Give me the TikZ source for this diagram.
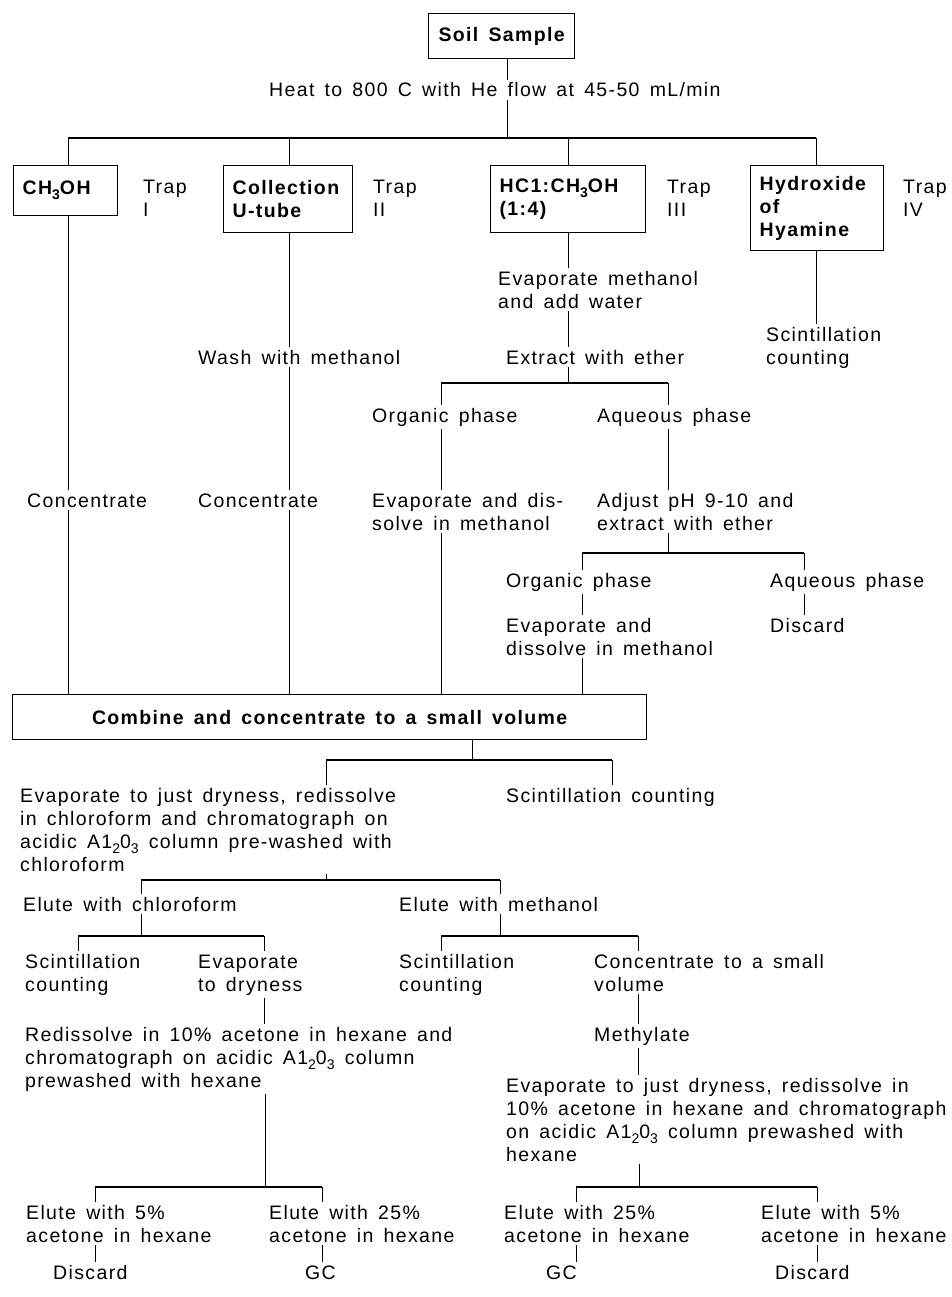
\documentclass[tikz,border=0pt]{standalone}
\usepackage{fontspec}
\setmainfont{Liberation Sans}[LetterSpace=7,WordSpace=1.5]

\newcommand{\low}[1]{\raisebox{-0.5ex}{\fontsize{14}{14}\selectfont #1}}

\begin{document}
\begin{tikzpicture}[x=1pt,y=-1pt,
  every node/.style={font=\fontsize{19.5}{23}\selectfont},
  txt/.style={inner sep=3pt,align=left,anchor=base west},
  box/.style={draw,line width=1.3pt,inner xsep=9pt,inner ysep=8pt,align=left,
    anchor=north west,font=\fontsize{19.5}{23}\selectfont\bfseries},
  link/.style={line width=0.9pt},
  bar/.style={line width=1.5pt}]

\useasboundingbox (0,0) rectangle (951,1297);

% (text nodes sit on the baseline of their last line)
\node[box,minimum width=146,minimum height=45,align=center] (soil) at (428,13) {Soil Sample};
\node[txt] (heat) at (266,97) {Heat to 800 C with He flow at 45-50 mL/min};

% traps
\node[box,text width=86,minimum height=50]  (trap1) at (13,165)  {CH\low{3}OH};
\node[box,text width=111,minimum height=67] (trap2) at (223,165) {Collection\\U-tube};
\node[box,text width=137,minimum height=67] (trap3) at (490,165) {HC1:CH\low{3}OH\\(1:4)};
\node[box,text width=115,minimum height=85] (trap4) at (750,165) {Hydroxide\\of\\Hyamine};
\node[txt] (lab1) at (140,217) {Trap\\I};
\node[txt] (lab2) at (370,217) {Trap\\II};
\node[txt] (lab3) at (664,217) {Trap\\III};
\node[txt] (lab4) at (900,217) {Trap\\IV};

\node[txt] (evmeth)  at (495,308) {Evaporate methanol\\and add water};
\node[txt] (scintA)  at (763,364) {Scintillation\\counting};
\node[txt] (wash)    at (195,364) {Wash with methanol};
\node[txt] (extract) at (503,364) {Extract with ether};
\node[txt] (orgA)    at (369,422) {Organic phase};
\node[txt] (aqA)     at (594,422) {Aqueous phase};
\node[txt] (concA)   at (24,507)  {Concentrate};
\node[txt] (concB)   at (195,507) {Concentrate};
\node[txt] (evdisA)  at (369,530) {Evaporate and dis-\\solve in methanol};
\node[txt] (adjust)  at (594,530) {Adjust pH 9-10 and\\extract with ether};
\node[txt] (orgB)    at (503,587) {Organic phase};
\node[txt] (aqB)     at (767,587) {Aqueous phase};
\node[txt] (evdisB)  at (503,655) {Evaporate and\\dissolve in methanol};
\node[txt] (discA)   at (767,632) {Discard};

\node[box,minimum width=634,minimum height=45,align=center] (combine) at (12,694)
  {Combine and concentrate to a small volume};

\node[txt] (evchl)   at (17,871)  {Evaporate to just dryness, redissolve\\in chloroform and chromatograph on\\acidic A1\low{2}0\low{3} column pre-washed with\\chloroform};
\node[txt] (scintB)  at (503,802) {Scintillation counting};
\node[txt] (eluchl)  at (20,911)  {Elute with chloroform};
\node[txt] (elumeth) at (396,911) {Elute with methanol};
\node[txt] (scintC)  at (22,991)  {Scintillation\\counting};
\node[txt] (evdry)   at (195,991) {Evaporate\\to dryness};
\node[txt] (scintD)  at (396,991) {Scintillation\\counting};
\node[txt] (concsm)  at (591,991) {Concentrate to a small\\volume};
\node[txt] (redis)   at (22,1087) {Redissolve in 10\% acetone in hexane and\\chromatograph on acidic A1\low{2}0\low{3} column\\prewashed with hexane};
\node[txt] (methyl)  at (591,1041) {Methylate};
\node[txt] (evright) at (503,1161) {Evaporate to just dryness, redissolve in\\10\% acetone in hexane and chromatograph\\on acidic A1\low{2}0\low{3} column prewashed with\\hexane};
\node[txt] (eluA)    at (23,1242)  {Elute with 5\%\\acetone in hexane};
\node[txt] (eluB)    at (266,1242) {Elute with 25\%\\acetone in hexane};
\node[txt] (eluC)    at (501,1242) {Elute with 25\%\\acetone in hexane};
\node[txt] (eluD)    at (758,1242) {Elute with 5\%\\acetone in hexane};
\node[txt] (discB)   at (50,1279)  {Discard};
\node[txt] (gcA)     at (302,1279) {GC};
\node[txt] (gcB)     at (543,1279) {GC};
\node[txt] (discC)   at (772,1279) {Discard};

% fork points
\coordinate (h1)  at (507,138);
\coordinate (h1a) at (68,138);
\coordinate (h1b) at (289,138);
\coordinate (h1c) at (568,138);
\coordinate (h1d) at (816,138);
\coordinate (b2)  at (568,383);
\coordinate (b2l) at (441,383);
\coordinate (b2r) at (668,383);
\coordinate (b3)  at (668,553);
\coordinate (b3l) at (582,553);
\coordinate (b3r) at (804,553);
\coordinate (b4)  at (472,760);
\coordinate (b4l) at (326,760);
\coordinate (b4r) at (612,760);
\coordinate (b5)  at (326,880);
\coordinate (b5l) at (141,880);
\coordinate (b5r) at (500,880);
\coordinate (b6)  at (141,936);
\coordinate (b6l) at (78,936);
\coordinate (b6r) at (264,936);
\coordinate (b7)  at (500,936);
\coordinate (b7l) at (441,936);
\coordinate (b7r) at (638,936);
\coordinate (b8)  at (265,1187);
\coordinate (b8l) at (95,1187);
\coordinate (b8r) at (322,1187);
\coordinate (b9)  at (639,1187);
\coordinate (b9l) at (576,1187);
\coordinate (b9r) at (817,1187);

\draw[bar] (h1a) -- (h1d);
\draw[bar] (b2l) -- (b2r);
\draw[bar] (b3l) -- (b3r);
\draw[bar] (b4l) -- (b4r);
\draw[bar] (b5l) -- (b5r);
\draw[bar] (b6l) -- (b6r);
\draw[bar] (b7l) -- (b7r);
\draw[bar] (b8l) -- (b8r);
\draw[bar] (b9l) -- (b9r);

\draw[link] (soil.south -| h1) -- (heat.north -| h1);
\draw[link] (heat.south -| h1) -- (h1);
\draw[link] (h1a) -- (trap1.north -| h1a);
\draw[link] (h1b) -- (trap2.north -| h1b);
\draw[link] (h1c) -- (trap3.north -| h1c);
\draw[link] (h1d) -- (trap4.north -| h1d);

% trap I and II
\draw[link] (trap1.south -| h1a) -- (concA.north -| h1a);
\draw[link] (concA.south -| h1a) -- (combine.north -| h1a);
\draw[link] (trap2.south -| h1b) -- (wash.north -| h1b);
\draw[link] (wash.south -| h1b) -- (concB.north -| h1b);
\draw[link] (concB.south -| h1b) -- (combine.north -| h1b);

% trap III
\draw[link] (trap3.south -| h1c) -- (evmeth.north -| h1c);
\draw[link] (evmeth.south -| h1c) -- (extract.north -| h1c);
\draw[link] (extract.south -| b2) -- (b2);
\draw[link] (b2l) -- (orgA.north -| b2l);
\draw[link] (orgA.south -| b2l) -- (evdisA.north -| b2l);
\draw[link] (evdisA.south -| b2l) -- (combine.north -| b2l);
\draw[link] (b2r) -- (aqA.north -| b2r);
\draw[link] (aqA.south -| b2r) -- (adjust.north -| b2r);
\draw[link] (adjust.south -| b3) -- (b3);
\draw[link] (b3l) -- (orgB.north -| b3l);
\draw[link] (orgB.south -| b3l) -- (evdisB.north -| b3l);
\draw[link] (evdisB.south -| b3l) -- (combine.north -| b3l);
\draw[link] (b3r) -- (aqB.north -| b3r);
\draw[link] (aqB.south -| b3r) -- (discA.north -| b3r);

% trap IV
\draw[link] (trap4.south -| h1d) -- (scintA.north -| h1d);

% combined extract
\draw[link] (combine.south -| b4) -- (b4);
\draw[link] (b4l) -- (evchl.north -| b4l);
\draw[link] (b4r) -- (scintB.north -| b4r);
\draw[link] (evchl.south -| b5) -- (b5);
\draw[link] (b5l) -- (eluchl.north -| b5l);
\draw[link] (b5r) -- (elumeth.north -| b5r);
\draw[link] (eluchl.south -| b6) -- (b6);
\draw[link] (b6l) -- (scintC.north -| b6l);
\draw[link] (b6r) -- (evdry.north -| b6r);
\draw[link] (elumeth.south -| b7) -- (b7);
\draw[link] (b7l) -- (scintD.north -| b7l);
\draw[link] (b7r) -- (concsm.north -| b7r);
\draw[link] (evdry.south -| b6r) -- (redis.north -| b6r);
\draw[link] (concsm.south -| b7r) -- (methyl.north -| b7r);
\draw[link] (methyl.south -| b7r) -- (evright.north -| b7r);
\draw[link] (redis.south -| b8) -- (b8);
\draw[link] (b8l) -- (eluA.north -| b8l);
\draw[link] (b8r) -- (eluB.north -| b8r);
\draw[link] (evright.south -| b9) -- (b9);
\draw[link] (b9l) -- (eluC.north -| b9l);
\draw[link] (b9r) -- (eluD.north -| b9r);
\draw[link] (eluA.south -| b8l) -- (discB.north -| b8l);
\draw[link] (eluB.south -| b8r) -- (gcA.north -| b8r);
\draw[link] (eluC.south -| b9l) -- (gcB.north -| b9l);
\draw[link] (eluD.south -| b9r) -- (discC.north -| b9r);

\end{tikzpicture}
\end{document}
